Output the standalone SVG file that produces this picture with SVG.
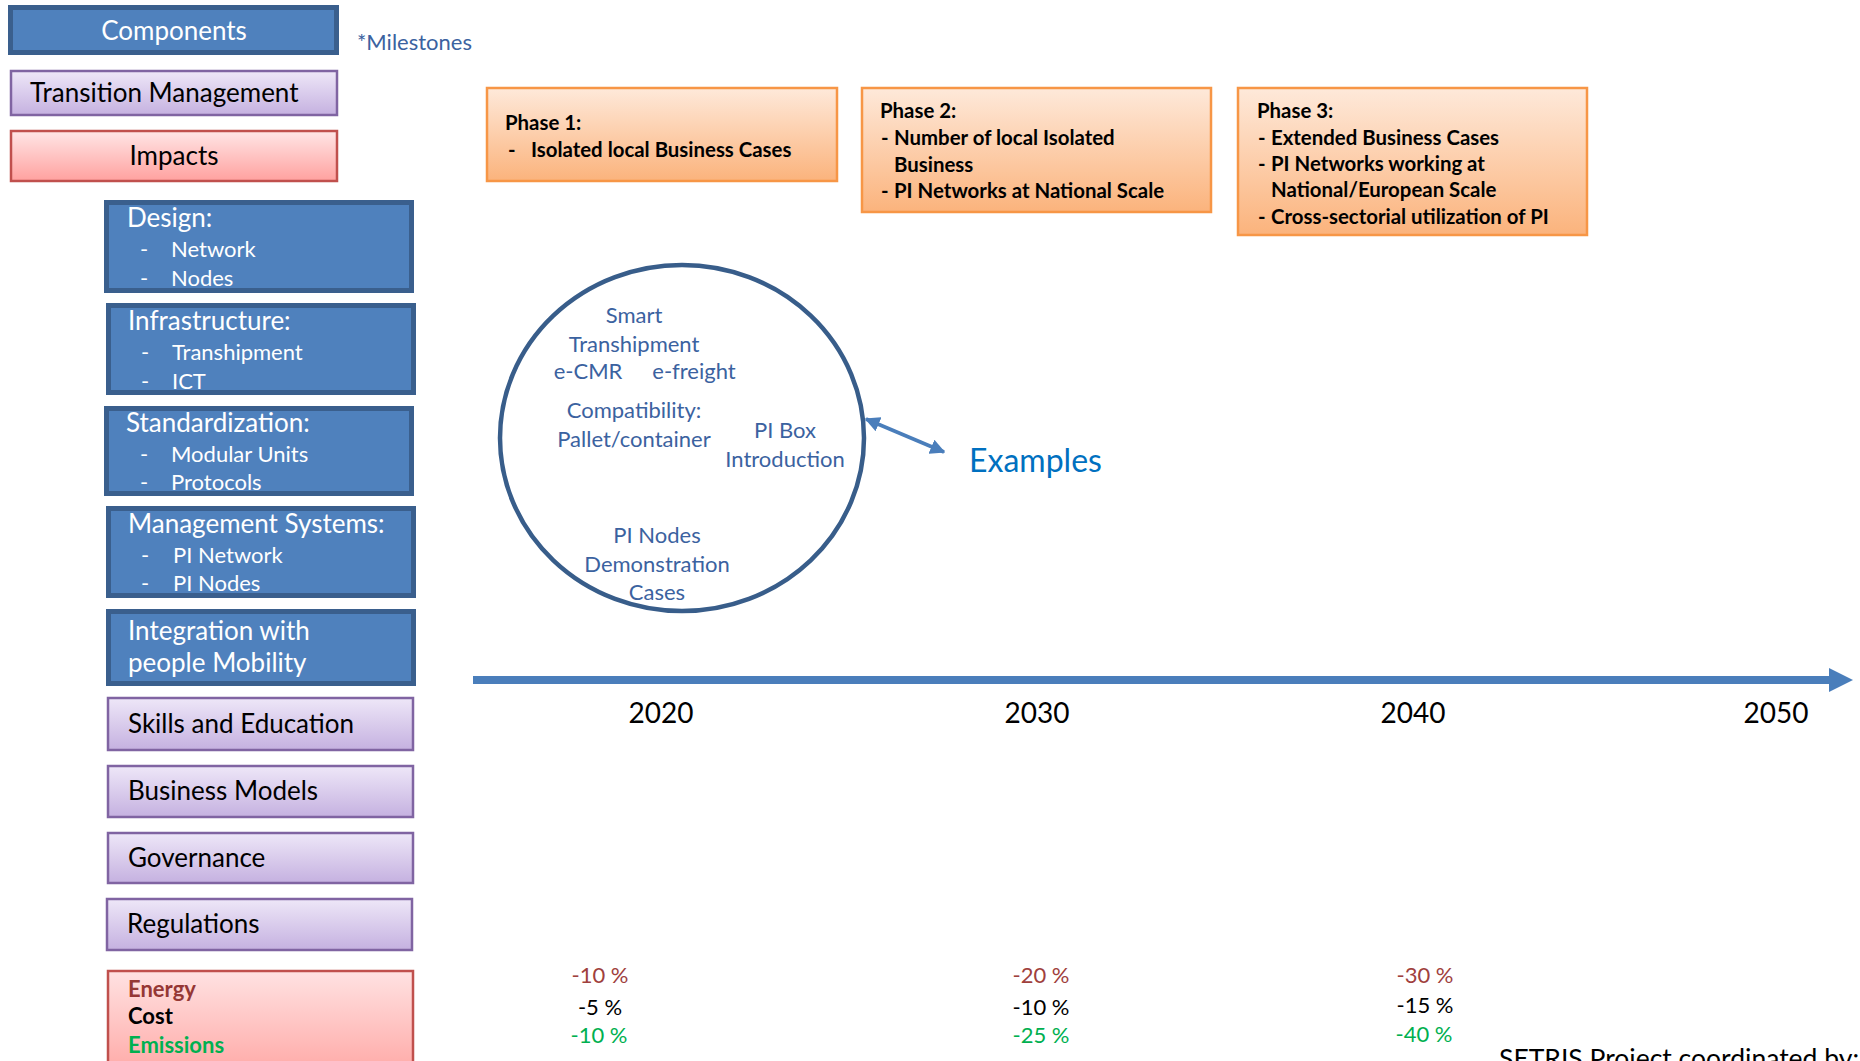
<svg xmlns="http://www.w3.org/2000/svg" width="1860" height="1061" viewBox="0 0 1860 1061">
<defs>
<linearGradient id="gPurple" x1="0" y1="0" x2="0" y2="1"><stop offset="0" stop-color="#eee7f8"/><stop offset="1" stop-color="#c5b1e0"/></linearGradient>
<linearGradient id="gRed" x1="0" y1="0" x2="0" y2="1"><stop offset="0" stop-color="#ffe6e6"/><stop offset="1" stop-color="#ffa19f"/></linearGradient>
<linearGradient id="gRed2" x1="0" y1="0" x2="0" y2="1"><stop offset="0" stop-color="#ffe2e2"/><stop offset="1" stop-color="#ff9f9c"/></linearGradient>
<linearGradient id="gOrange" x1="0" y1="0" x2="0" y2="1"><stop offset="0" stop-color="#fee9da"/><stop offset="1" stop-color="#fbb37c"/></linearGradient>
<marker id="ah" viewBox="0 0 10 10" refX="9" refY="5" markerWidth="4.2" markerHeight="4.2" orient="auto-start-reverse" markerUnits="strokeWidth"><path d="M0,0 L10,5 L0,10 z" fill="#4a7ebb"/></marker>
</defs>
<style>
text{font-family:Lato,"Open Sans","Liberation Sans",sans-serif}
.blue rect{fill:#4f81bd;stroke:#3a5f8d;stroke-width:5}
.purple rect{fill:url(#gPurple);stroke:#8064a2;stroke-width:2.5}
.red rect{fill:url(#gRed);stroke:#c0504d;stroke-width:2.5}
.phase rect{fill:url(#gOrange);stroke:#f79646;stroke-width:2.5}
.wt{fill:#fff;font-size:26px}
.ws{fill:#fff;font-size:22px}
.bt{fill:#000;font-size:26px}
.ph{fill:#000;font-size:20.4px;font-weight:bold}
.ct{fill:#3b62a0;font-size:22px;text-anchor:middle}
.yr{fill:#000;font-size:28px;text-anchor:middle}
.pc{font-size:22px;text-anchor:middle}
.im{font-size:22px;font-weight:bold}
</style>

<g id="components" class="blue"><rect x="10.5" y="7.5" width="326" height="45"/><text class="wt" x="174" y="40" text-anchor="middle">Components</text></g>
<text id="milestones" x="357" y="50" fill="#3b62a0" font-size="22">*Milestones</text>
<g id="transition" class="purple"><rect x="11" y="71" width="326" height="44"/><text class="bt" x="30" y="102">Transition Management</text></g>
<g id="impacts" class="red"><rect x="11" y="131" width="326" height="50"/><text class="bt" x="174" y="165" text-anchor="middle">Impacts</text></g>

<g id="design" class="blue"><rect x="106.5" y="202.5" width="305" height="88"/><text class="wt" x="127" y="227">Design:</text><text class="ws" x="140" y="257">-</text><text class="ws" x="171" y="257">Network</text><text class="ws" x="140" y="286">-</text><text class="ws" x="171" y="286">Nodes</text></g>
<g id="infrastructure" class="blue"><rect x="108.5" y="305.5" width="305" height="87"/><text class="wt" x="128" y="330">Infrastructure:</text><text class="ws" x="141" y="360">-</text><text class="ws" x="172" y="360">Transhipment</text><text class="ws" x="141" y="389">-</text><text class="ws" x="172" y="389">ICT</text></g>
<g id="standardization" class="blue"><rect x="106.5" y="408.5" width="305" height="85"/><text class="wt" x="126" y="432">Standardization:</text><text class="ws" x="140" y="462">-</text><text class="ws" x="171" y="462">Modular Units</text><text class="ws" x="140" y="490">-</text><text class="ws" x="171" y="490">Protocols</text></g>
<g id="management" class="blue"><rect x="108.5" y="508.5" width="305" height="87"/><text class="wt" x="128" y="533">Management Systems:</text><text class="ws" x="141" y="563">-</text><text class="ws" x="173" y="563">PI Network</text><text class="ws" x="141" y="591">-</text><text class="ws" x="173" y="591">PI Nodes</text></g>
<g id="integration" class="blue"><rect x="108.5" y="611.5" width="305" height="72"/><text class="wt" x="128" y="640">Integration with</text><text class="wt" x="128" y="672">people Mobility</text></g>
<g id="skills" class="purple"><rect x="108" y="698" width="305" height="52"/><text class="bt" x="128" y="733">Skills and Education</text></g>
<g id="business" class="purple"><rect x="108" y="766" width="305" height="51"/><text class="bt" x="128" y="800">Business Models</text></g>
<g id="governance" class="purple"><rect x="108" y="833" width="305" height="50"/><text class="bt" x="128" y="867">Governance</text></g>
<g id="regulations" class="purple"><rect x="107" y="899" width="305" height="51"/><text class="bt" x="127" y="933">Regulations</text></g>
<g id="impact-metrics"><rect x="108" y="971" width="305" height="120" fill="url(#gRed2)" stroke="#c0504d" stroke-width="2.5"/><text class="im" x="128" y="997" fill="#953735">Energy</text><text class="im" x="128" y="1024" fill="#000">Cost</text><text class="im" x="128" y="1053" fill="#00b050">Emissions</text></g>

<g id="phase1" class="phase"><rect x="487" y="88" width="350" height="93"/><text class="ph" x="505" y="130">Phase 1:</text><text class="ph" x="508" y="157">-</text><text class="ph" x="531" y="157">Isolated local Business Cases</text></g>
<g id="phase2" class="phase"><rect x="862" y="88" width="349" height="124"/><text class="ph" x="880" y="118">Phase 2:</text><text class="ph" x="881" y="145">-</text><text class="ph" x="894" y="145">Number of local Isolated</text><text class="ph" x="894" y="172">Business</text><text class="ph" x="881" y="198">-</text><text class="ph" x="894" y="198">PI Networks at National Scale</text></g>
<g id="phase3" class="phase"><rect x="1238" y="88" width="349" height="147"/><text class="ph" x="1257" y="118">Phase 3:</text><text class="ph" x="1258" y="145">-</text><text class="ph" x="1271" y="145">Extended Business Cases</text><text class="ph" x="1258" y="171">-</text><text class="ph" x="1271" y="171">PI Networks working at</text><text class="ph" x="1271" y="197">National/European Scale</text><text class="ph" x="1258" y="224">-</text><text class="ph" x="1271" y="224">Cross-sectorial utilization of PI</text></g>

<g id="examples-circle"><ellipse cx="682" cy="438" rx="182" ry="173" fill="none" stroke="#385d8a" stroke-width="4.5"/>
<text class="ct" x="634" y="323">Smart</text><text class="ct" x="634" y="352">Transhipment</text><text class="ct" x="588" y="379">e-CMR</text><text class="ct" x="694" y="379">e-freight</text><text class="ct" x="634" y="418">Compatibility:</text><text class="ct" x="634" y="447">Pallet/container</text><text class="ct" x="785" y="438">PI Box</text><text class="ct" x="785" y="467">Introduction</text><text class="ct" x="657" y="543">PI Nodes</text><text class="ct" x="657" y="572">Demonstration</text><text class="ct" x="657" y="600">Cases</text></g>
<text id="examples" x="969" y="472" fill="#0070c0" font-size="32">Examples</text>

<g id="connectors">
<line x1="866" y1="419" x2="944" y2="452" stroke="#4a7ebb" stroke-width="3.6" marker-start="url(#ah)" marker-end="url(#ah)"/>
<line x1="473" y1="680" x2="1831" y2="680" stroke="#4a7ebb" stroke-width="8"/>
<polygon points="1829,668 1853,680 1829,692" fill="#4a7ebb"/>
</g>

<g id="years"><text class="yr" x="661" y="723">2020</text><text class="yr" x="1037" y="723">2030</text><text class="yr" x="1413" y="723">2040</text><text class="yr" x="1776" y="723">2050</text></g>
<g id="percentages">
<text class="pc" x="600" y="983" fill="#a0403d">-10 %</text><text class="pc" x="600" y="1015" fill="#000">-5 %</text><text class="pc" x="599" y="1043" fill="#00b050">-10 %</text>
<text class="pc" x="1041" y="983" fill="#a0403d">-20 %</text><text class="pc" x="1041" y="1015" fill="#000">-10 %</text><text class="pc" x="1041" y="1043" fill="#00b050">-25 %</text>
<text class="pc" x="1425" y="983" fill="#a0403d">-30 %</text><text class="pc" x="1425" y="1013" fill="#000">-15 %</text><text class="pc" x="1424" y="1042" fill="#00b050">-40 %</text>
</g>
<text id="setris" x="1499" y="1068" fill="#000" font-size="26.5">SETRIS Project coordinated by:</text>
</svg>
